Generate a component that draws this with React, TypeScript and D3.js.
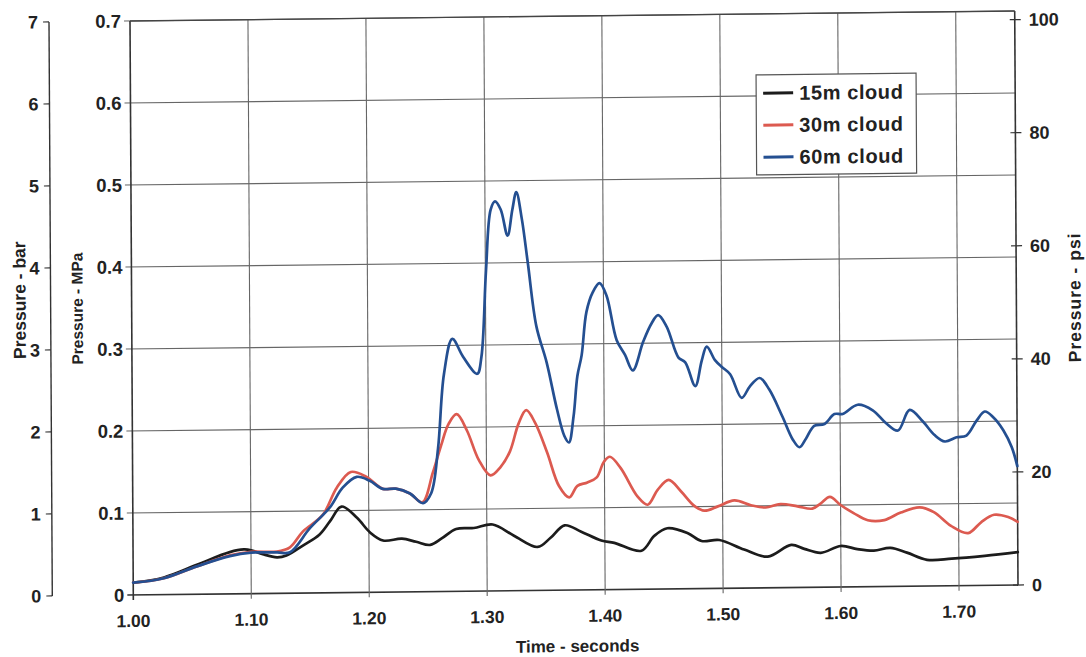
import React from "react";
import * as d3 from "d3";

// ---- data (time in seconds, pressure in MPa) ----
const t15 = [1.000, 1.026, 1.054, 1.082, 1.094, 1.100, 1.110, 1.122, 1.130, 1.144, 1.158, 1.167, 1.177, 1.190, 1.201, 1.212, 1.228, 1.240, 1.252, 1.262, 1.274, 1.289, 1.305, 1.323, 1.343, 1.354, 1.366, 1.380, 1.397, 1.408, 1.431, 1.442, 1.453, 1.470, 1.482, 1.497, 1.518, 1.538, 1.558, 1.569, 1.583, 1.600, 1.614, 1.628, 1.642, 1.656, 1.673, 1.694, 1.722, 1.750];
const p15 = [0.015, 0.021, 0.036, 0.051, 0.054, 0.053, 0.048, 0.044, 0.046, 0.058, 0.071, 0.087, 0.105, 0.091, 0.073, 0.063, 0.065, 0.061, 0.057, 0.065, 0.076, 0.077, 0.081, 0.067, 0.053, 0.064, 0.079, 0.071, 0.060, 0.057, 0.047, 0.065, 0.074, 0.068, 0.058, 0.059, 0.047, 0.038, 0.052, 0.047, 0.042, 0.050, 0.046, 0.044, 0.047, 0.041, 0.032, 0.033, 0.036, 0.040];

const t30 = [1.000, 1.026, 1.054, 1.082, 1.100, 1.122, 1.133, 1.144, 1.161, 1.173, 1.185, 1.198, 1.212, 1.223, 1.235, 1.2455, 1.2545, 1.2616, 1.268, 1.275, 1.2836, 1.2935, 1.3034, 1.3119, 1.320, 1.3275, 1.334, 1.3416, 1.3515, 1.3614, 1.370, 1.377, 1.3855, 1.3934, 1.3996, 1.4047, 1.4138, 1.428, 1.4365, 1.445, 1.4544, 1.4647, 1.476, 1.4845, 1.496, 1.510, 1.524, 1.5365, 1.549, 1.5635, 1.576, 1.583, 1.591, 1.600, 1.611, 1.623, 1.637, 1.651, 1.667, 1.679, 1.6935, 1.708, 1.719, 1.730, 1.742, 1.750];
const p30 = [0.015, 0.020, 0.034, 0.047, 0.051, 0.051, 0.056, 0.075, 0.095, 0.128, 0.147, 0.141, 0.126, 0.126, 0.120, 0.109, 0.145, 0.178, 0.204, 0.216, 0.196, 0.160, 0.141, 0.151, 0.170, 0.204, 0.220, 0.204, 0.168, 0.127, 0.113, 0.127, 0.131, 0.137, 0.156, 0.162, 0.148, 0.113, 0.103, 0.121, 0.133, 0.119, 0.101, 0.095, 0.100, 0.107, 0.101, 0.098, 0.102, 0.099, 0.096, 0.102, 0.110, 0.100, 0.090, 0.081, 0.081, 0.090, 0.096, 0.090, 0.073, 0.064, 0.077, 0.086, 0.083, 0.077];

const t60 = [1.000, 1.026, 1.054, 1.082, 1.100, 1.122, 1.133, 1.150, 1.167, 1.178, 1.190, 1.201, 1.212, 1.223, 1.235, 1.246, 1.253, 1.259, 1.2644, 1.2717, 1.2807, 1.2926, 1.2963, 1.3006, 1.3048, 1.3085, 1.3133, 1.319, 1.3232, 1.3266, 1.3312, 1.336, 1.343, 1.3515, 1.360, 1.3662, 1.370, 1.3741, 1.3775, 1.3812, 1.3855, 1.391, 1.3967, 1.4025, 1.411, 1.418, 1.4245, 1.4335, 1.4406, 1.4463, 1.4534, 1.4633, 1.469, 1.4774, 1.483, 1.4873, 1.4944, 1.500, 1.507, 1.5167, 1.5237, 1.532, 1.540, 1.551, 1.560, 1.5655, 1.5712, 1.578, 1.5867, 1.5952, 1.6022, 1.615, 1.6277, 1.639, 1.649, 1.659, 1.670, 1.680, 1.6887, 1.6986, 1.707, 1.7157, 1.7227, 1.7298, 1.7383, 1.7454, 1.750];
const p60 = [0.015, 0.020, 0.034, 0.046, 0.050, 0.050, 0.050, 0.079, 0.104, 0.128, 0.141, 0.136, 0.126, 0.126, 0.120, 0.108, 0.120, 0.174, 0.265, 0.308, 0.286, 0.265, 0.286, 0.392, 0.465, 0.475, 0.465, 0.433, 0.465, 0.486, 0.453, 0.400, 0.322, 0.278, 0.221, 0.188, 0.180, 0.212, 0.261, 0.286, 0.339, 0.363, 0.374, 0.359, 0.304, 0.286, 0.267, 0.302, 0.324, 0.334, 0.320, 0.282, 0.276, 0.247, 0.278, 0.295, 0.278, 0.270, 0.261, 0.232, 0.246, 0.256, 0.242, 0.209, 0.180, 0.171, 0.182, 0.197, 0.199, 0.211, 0.211, 0.222, 0.215, 0.199, 0.190, 0.215, 0.201, 0.184, 0.176, 0.181, 0.183, 0.201, 0.212, 0.205, 0.189, 0.168, 0.145];

const seriesNames = ["15m cloud", "30m cloud", "60m cloud"];
const seriesColors = ["#1c1c1c", "#dc5a50", "#244f91"];

const xTicks = [1.0, 1.1, 1.2, 1.3, 1.4, 1.5, 1.6, 1.7];
const mpaTicks = [0, 0.1, 0.2, 0.3, 0.4, 0.5, 0.6, 0.7];
const barTicks = [0, 1, 2, 3, 4, 5, 6, 7];
const psiTicks = [0, 20, 40, 60, 80, 100];

const xTitle = "Time - seconds";
const barTitle = "Pressure - bar";
const mpaTitle = "Pressure - MPa";
const psiTitle = "Pressure - psi";

const W = 1086;
const H = 657;
const L = 130;
const R = 1014.7;
const T = 21;
const B = 595;
const FONT = "'Liberation Sans', Arial, Helvetica, sans-serif";
const TXT = "#222";
const GRID = "#666";

export default function App() {
  const x = d3.scaleLinear().domain([1.0, 1.75]).range([L, R]);
  const y = d3.scaleLinear().domain([0, 0.7]).range([B, T]);
  const yBar = d3.scaleLinear().domain([0, 7]).range([B, T]);
  const yPsi = d3.scaleLinear().domain([0, 0.7 * 145.038]).range([B, T]);

  const line = d3
    .line<[number, number]>()
    .x((d) => x(d[0]))
    .y((d) => y(d[1]))
    .curve(d3.curveCatmullRom.alpha(0.5));

  const series = [
    { t: t15, p: p15 },
    { t: t30, p: p30 },
    { t: t60, p: p60 },
  ].map((s, i) => ({
    name: seriesNames[i],
    color: seriesColors[i],
    d: line(s.t.map((tt, j) => [tt, s.p[j]] as [number, number])) || "",
  }));

  const barAxisX = 49;
  const legX = 755.7;
  const legY = 82;
  const legW = 160;
  const legH = 100;

  return (
    <svg
      width={W}
      height={H}
      style={{ position: "absolute", left: 0, top: 0, background: "#fff" }}
      fontFamily={FONT}
    >
      <rect x={0} y={0} width={W} height={H} fill="#fff" />
      <g transform="matrix(1,-0.0113,0.00575,1,-0.12,1.47)">
        {/* horizontal gridlines */}
        {mpaTicks.map((v) => (
          <line key={"h" + v} x1={L - 6} x2={R} y1={y(v)} y2={y(v)} stroke={v === 0 ? "#333" : GRID} strokeWidth={v === 0 ? 1.6 : 1.1} />
        ))}
        {/* vertical gridlines */}
        {xTicks.map((v) => (
          <line key={"v" + v} x1={x(v)} x2={x(v)} y1={T} y2={B + 5} stroke={v === 1.0 ? "#333" : GRID} strokeWidth={v === 1.0 ? 1.6 : 1.1} />
        ))}
        <line x1={R} x2={R} y1={T} y2={B} stroke="#333" strokeWidth={1.6} />
        <line x1={L} x2={R} y1={T} y2={T} stroke="#444" strokeWidth={1.3} />

        {/* psi ticks */}
        {psiTicks.map((v) => (
          <g key={"p" + v}>
            <line x1={R - 5} x2={R + 6} y1={yPsi(v)} y2={yPsi(v)} stroke="#333" strokeWidth={1.2} />
            <text x={R + 14} y={yPsi(v)} dy="0.35em" fontSize={18} fontWeight="bold" fill={TXT}>
              {v}
            </text>
          </g>
        ))}

        {/* bar axis */}
        <line x1={barAxisX} x2={barAxisX} y1={yBar(7)} y2={yBar(0)} stroke="#333" strokeWidth={1.4} />
        {barTicks.map((v) => (
          <g key={"b" + v}>
            <line x1={barAxisX - 6} x2={barAxisX} y1={yBar(v)} y2={yBar(v)} stroke="#333" strokeWidth={1.2} />
            <text x={barAxisX - 11} y={yBar(v)} dy="0.35em" textAnchor="end" fontSize={18} fontWeight="bold" fill={TXT}>
              {v}
            </text>
          </g>
        ))}

        {/* MPa labels */}
        {mpaTicks.map((v) => (
          <text key={"m" + v} x={L - 9} y={y(v)} dy="0.35em" textAnchor="end" fontSize={18.5} fontWeight="bold" fill={TXT}>
            {v === 0 ? "0" : v.toFixed(1)}
          </text>
        ))}

        {/* x labels */}
        {xTicks.map((v) => (
          <text key={"x" + v} x={x(v)} y={B + 32} textAnchor="middle" fontSize={17.5} fontWeight="bold" fill={TXT}>
            {v.toFixed(2)}
          </text>
        ))}

        {/* series */}
        {series.map((s) => (
          <path key={s.name} d={s.d} fill="none" stroke={s.color} strokeWidth={2.7} strokeLinejoin="round" strokeLinecap="round" />
        ))}

        {/* legend */}
        <rect x={legX} y={legY} width={legW} height={legH} fill="#fff" stroke="#555" strokeWidth={1.2} />
        {series.map((s, i) => {
          const ry = legY + 18.3 + i * 32;
          return (
            <g key={"lg" + i}>
              <line x1={legX + 7} x2={legX + 37} y1={ry} y2={ry} stroke={s.color} strokeWidth={3} />
              <text x={legX + 43} y={ry} dy="0.35em" fontSize={20} fontWeight="bold" letterSpacing={0.6} fill={TXT}>
                {s.name}
              </text>
            </g>
          );
        })}

        {/* axis titles */}
        <text x={574} y={657} textAnchor="middle" fontSize={17} fontWeight="bold" fill={TXT}>
          {xTitle}
        </text>
        <text transform="translate(24,299) rotate(-90)" textAnchor="middle" fontSize={17.5} fontWeight="bold" fill={TXT}>
          {barTitle}
        </text>
        <text transform="translate(81,308) rotate(-90)" textAnchor="middle" fontSize={15.5} fontWeight="bold" fill={TXT}>
          {mpaTitle}
        </text>
        <text transform="translate(1079,308) rotate(-90)" textAnchor="middle" fontSize={17.5} fontWeight="bold" letterSpacing={1} fill={TXT}>
          {psiTitle}
        </text>
      </g>
    </svg>
  );
}
